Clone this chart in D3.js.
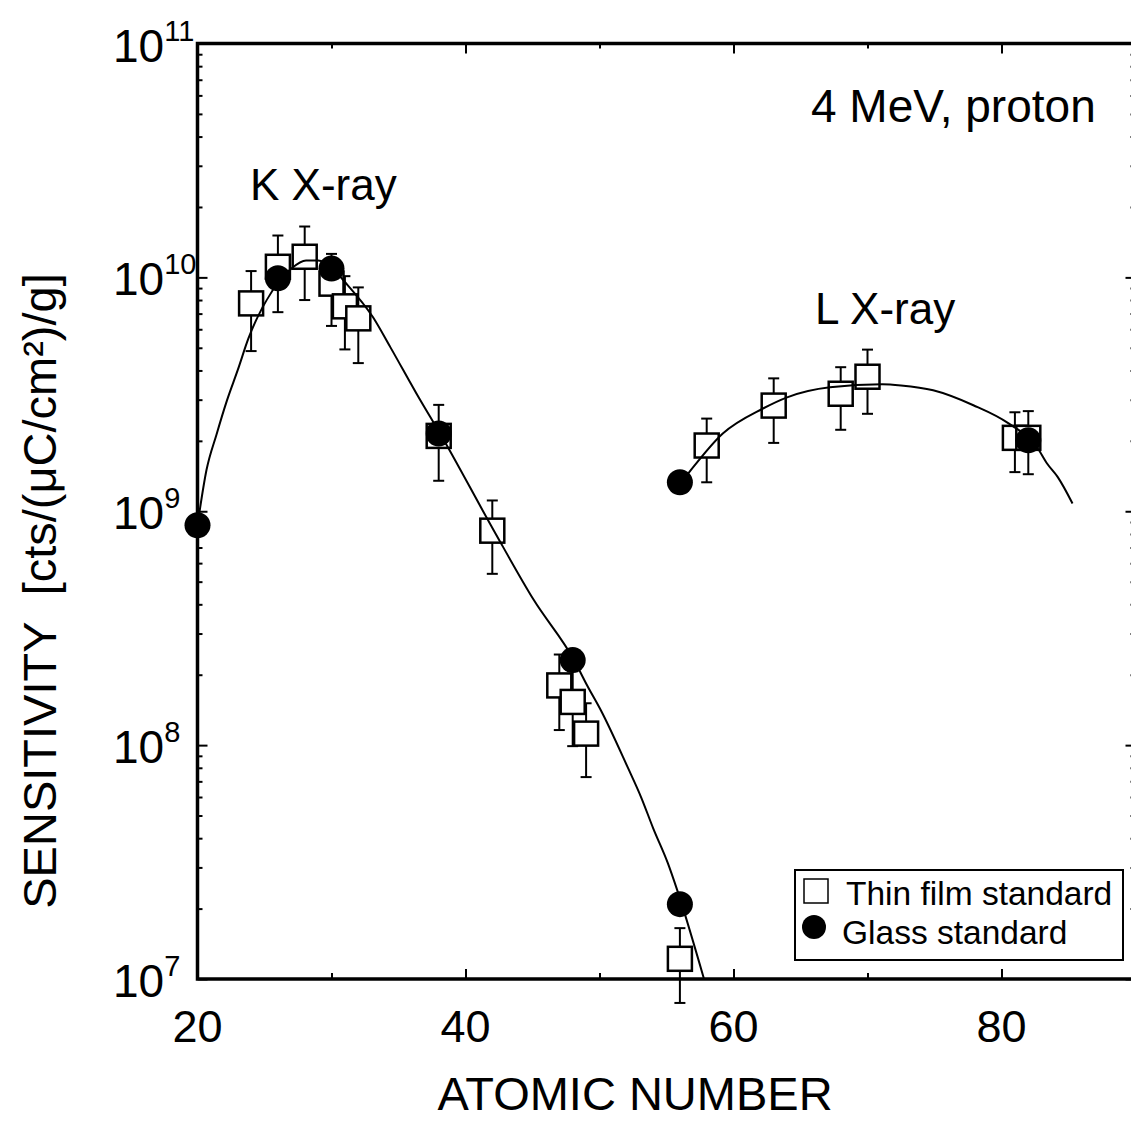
<!DOCTYPE html>
<html>
<head>
<meta charset="utf-8">
<script src="https://cdn.jsdelivr.net/npm/d3@7"></script>
<style>
  html, body { margin: 0; padding: 0; background: #fff; }
  svg { display: block; font-family: "Liberation Sans", Arial, Helvetica, sans-serif; }
</style>
</head>
<body>
<svg id="chart" width="1131" height="1128"></svg>
<script>
// ---------------- DATA ----------------
// Thin film standard (open squares): atomic number, sensitivity, error
const thinZ   = [24, 26, 28, 30, 31, 32, 38, 42, 47, 48, 49, 56, 58, 63, 68, 70, 81, 82];
const thinVal = [7.74e9, 1.11e10, 1.225e10, 9.4e9, 7.52e9, 6.68e9, 2.1e9, 8.26e8, 1.80e8, 1.53e8, 1.12e8, 1.22e7,
                 1.91e9, 2.83e9, 3.18e9, 3.76e9, 2.06e9, 2.06e9];
const thinErr = [2.9e9, 4.0e9, 4.25e9, 3.2e9, 2.6e9, 2.38e9, 0.75e9, 2.86e8, 0.64e8, 0.54e8, 0.39e8, 0.43e7,
                 0.58e9, 0.87e9, 0.95e9, 1.15e9, 0.59e9, 0.62e9];
// Glass standard (filled circles)
const glassZ   = [20, 26, 30, 38, 48, 56, 56, 82];
const glassVal = [8.71e8, 9.91e9, 1.09e10, 2.15e9, 2.31e8, 2.09e7, 1.33e9, 2.01e9];
// K X-ray fitted curve
const kCurveZ   = [20, 20.67, 21.42, 22.2, 23.0, 23.8, 25.6, 27.0, 28.1, 29.0, 30.1, 30.9, 33.1, 34.4, 36.5, 38.1, 42.1, 45.1, 48.1, 49.1, 50.1, 52.1, 53.1, 54.0, 55.1, 55.8, 57.8];
const kCurveVal = [8.71e8, 1.50e9, 2.13e9, 2.98e9, 4.01e9, 5.48e9, 8.79e9, 1.09e10, 1.18e10, 1.18e10, 1.09e10, 9.7e9, 6.75e9, 5.02e9, 3.07e9, 2.15e9, 8.3e8, 4.17e8, 2.31e8, 1.79e8, 1.41e8, 8.05e7, 6.0e7, 4.42e7, 3.13e7, 2.40e7, 1.0e7];
// L X-ray fitted curve
const lCurveZ   = [56.1, 56.7, 59.2, 62.2, 64.0, 67.2, 71.1, 72.5, 74.9, 77.9, 80.5, 82.7, 83.4, 84.2, 85.3];
const lCurveVal = [1.33e9, 1.47e9, 2.15e9, 2.75e9, 3.07e9, 3.39e9, 3.49e9, 3.45e9, 3.29e9, 2.84e9, 2.38e9, 1.86e9, 1.60e9, 1.40e9, 1.08e9];
// Axis ticks
const xMajorTicks = [20, 40, 60, 80];
const xMinorTicks = [30, 50, 70];
const yDecadeExps = [7, 8, 9, 10, 11];
const xTitle = "ATOMIC NUMBER";
const yTitle = "SENSITIVITY\u00a0\u00a0[cts/(\u03bcC/cm\u00b2)/g]";
const annotations = ["4 MeV, proton", "K X-ray", "L X-ray"];
const legendLabels = ["Thin film standard", "Glass standard"];

// ---------------- CHART ----------------
const svg = d3.select("#chart");
const L = 197.5, R = 1135.5, T = 43.5, B = 979;
const x = d3.scaleLinear().domain([20, 90]).range([L, R]);
const y = d3.scaleLog().domain([1e7, 1e11]).range([B, T]);

const yMajor = yDecadeExps.map(e => Math.pow(10, e));
const yMinor = [];
for (let e = 7; e < 11; e++) for (let m = 2; m <= 9; m++) yMinor.push(m * Math.pow(10, e));

function styleAxis(g) {
  g.select(".domain").remove();
  g.selectAll(".tick line").attr("stroke", "#000").attr("stroke-width", 2);
  g.selectAll(".tick text").remove();
}
// bottom
svg.append("g").attr("transform", `translate(0,${B})`)
  .call(d3.axisBottom(x).tickValues(xMajorTicks).tickSize(-10)).call(styleAxis);
svg.append("g").attr("transform", `translate(0,${B})`)
  .call(d3.axisBottom(x).tickValues(xMinorTicks).tickSize(-6)).call(styleAxis);
// top
svg.append("g").attr("transform", `translate(0,${T})`)
  .call(d3.axisTop(x).tickValues(xMajorTicks).tickSize(-10)).call(styleAxis);
svg.append("g").attr("transform", `translate(0,${T})`)
  .call(d3.axisTop(x).tickValues(xMinorTicks).tickSize(-5)).call(styleAxis);
// left
svg.append("g").attr("transform", `translate(${L},0)`)
  .call(d3.axisLeft(y).tickValues(yMajor).tickSize(-10)).call(styleAxis);
svg.append("g").attr("transform", `translate(${L},0)`)
  .call(d3.axisLeft(y).tickValues(yMinor).tickSize(-5)).call(styleAxis);
// right
svg.append("g").attr("transform", `translate(${R},0)`)
  .call(d3.axisRight(y).tickValues(yMajor).tickSize(-10)).call(styleAxis);
svg.append("g").attr("transform", `translate(${R},0)`)
  .call(d3.axisRight(y).tickValues(yMinor).tickSize(-5)).call(styleAxis);

// frame
svg.append("rect").attr("x", L).attr("y", T).attr("width", R - L).attr("height", B - T)
  .attr("fill", "none").attr("stroke", "#000").attr("stroke-width", 3.5);

// x tick labels
svg.append("g").selectAll("text").data(xMajorTicks).join("text")
  .attr("x", d => x(d)).attr("y", 1042)
  .attr("text-anchor", "middle").attr("font-size", 45).text(d => d);

// y tick labels 10^n
const yl = svg.append("g").selectAll("text").data(yDecadeExps).join("text")
  .attr("x", 113).attr("y", d => y(Math.pow(10, d)) + 18).attr("font-size", 46);
yl.append("tspan").text("10");
yl.append("tspan").attr("font-size", 29).attr("dy", -21).text(d => d);

// titles
svg.append("text").attr("x", 635).attr("y", 1110).attr("text-anchor", "middle")
  .attr("font-size", 47).text(xTitle);
svg.append("text").attr("transform", "translate(56,591) rotate(-90)").attr("text-anchor", "middle")
  .attr("font-size", 47).text(yTitle);

// annotations
svg.append("text").attr("x", 811).attr("y", 122).attr("font-size", 46).text(annotations[0]);
svg.append("text").attr("x", 250).attr("y", 200).attr("font-size", 44).text(annotations[1]);
svg.append("text").attr("x", 815).attr("y", 324).attr("font-size", 44).text(annotations[2]);

// error bars
const thin = thinZ.map((z, i) => ({ z, v: thinVal[i], e: thinErr[i] }));
const eb = svg.append("g").attr("stroke", "#000").attr("stroke-width", 2);
thin.forEach(d => {
  const cx = x(d.z), y1 = y(d.v + d.e), y2 = y(d.v - d.e);
  eb.append("line").attr("x1", cx).attr("x2", cx).attr("y1", y1).attr("y2", y2);
  eb.append("line").attr("x1", cx - 5.5).attr("x2", cx + 5.5).attr("y1", y1).attr("y2", y1);
  eb.append("line").attr("x1", cx - 5.5).attr("x2", cx + 5.5).attr("y1", y2).attr("y2", y2);
});

// squares
const S = 24;
svg.append("g").selectAll("rect").data(thin).join("rect")
  .attr("x", d => x(d.z) - S / 2).attr("y", d => y(d.v) - S / 2)
  .attr("width", S).attr("height", S)
  .attr("fill", "#fff").attr("stroke", "#000").attr("stroke-width", 2.5);

// curves
const line = d3.line().x(d => x(d[0])).y(d => y(d[1])).curve(d3.curveMonotoneX);
svg.append("path").datum(kCurveZ.map((z, i) => [z, kCurveVal[i]]))
  .attr("d", line).attr("fill", "none").attr("stroke", "#000").attr("stroke-width", 2);
svg.append("path").datum(lCurveZ.map((z, i) => [z, lCurveVal[i]]))
  .attr("d", line).attr("fill", "none").attr("stroke", "#000").attr("stroke-width", 2);

// circles
svg.append("g").selectAll("circle").data(glassZ.map((z, i) => ({ z, v: glassVal[i] }))).join("circle")
  .attr("cx", d => x(d.z)).attr("cy", d => y(d.v)).attr("r", 13).attr("fill", "#000");

// legend
const lg = svg.append("g");
lg.append("rect").attr("x", 795).attr("y", 870).attr("width", 328).attr("height", 90)
  .attr("fill", "#fff").attr("stroke", "#000").attr("stroke-width", 2);
lg.append("rect").attr("x", 804).attr("y", 879).attr("width", 24).attr("height", 24)
  .attr("fill", "#fff").attr("stroke", "#000").attr("stroke-width", 1.5);
lg.append("text").attr("x", 846).attr("y", 905).attr("font-size", 33.5).text(legendLabels[0]);
lg.append("circle").attr("cx", 814).attr("cy", 927).attr("r", 12).attr("fill", "#000");
lg.append("text").attr("x", 842).attr("y", 944).attr("font-size", 33.5).text(legendLabels[1]);
</script>
</body>
</html>
